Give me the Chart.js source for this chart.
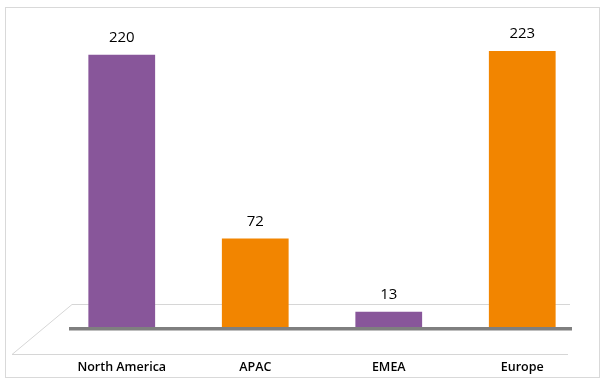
<!DOCTYPE html>
<html><head><meta charset="utf-8">
<script src="https://cdn.jsdelivr.net/npm/chart.js@4"></script>
<style>html,body{margin:0;padding:0;background:#fff}#wrap{width:606px;height:382px}</style>
</head><body><div id="wrap"><canvas id="c" width="606" height="382"></canvas></div>
<script>
const categories = ["North America", "APAC", "EMEA", "Europe"];
const values = [220, 72, 13, 223];
const barColors = ["#88569A", "#F28500", "#88569A", "#F28500"];

const decor = {
  id: 'decor',
  beforeDraw(chart) {
    const ctx = chart.ctx, a = chart.chartArea;
    ctx.save();
    ctx.strokeStyle = '#d9d9d9'; ctx.lineWidth = 1;
    ctx.strokeRect(5.5, 7.5, 594, 370);
    ctx.strokeStyle = '#d6d6d6';
    ctx.beginPath();
    ctx.moveTo(570, a.bottom - 23.5); ctx.lineTo(72, a.bottom - 23.5);
    ctx.lineTo(12, a.bottom + 26.5); ctx.lineTo(568, a.bottom + 26.5);
    ctx.stroke();
    ctx.restore();
  },
  afterDatasetsDraw(chart) {
    const ctx = chart.ctx, a = chart.chartArea;
    ctx.save();
    ctx.fillStyle = '#7f7f7f';
    ctx.fillRect(69, a.bottom - 1, 503, 3.5);
    ctx.restore();
  }
};

const labelPlugin = {
  id: 'vals',
  afterDatasetsDraw(chart) {
    const ctx = chart.ctx;
    const meta = chart.getDatasetMeta(0);
    ctx.save();
    ctx.font = '15px "Open Sans", sans-serif';
    ctx.fillStyle = '#000';
    ctx.textAlign = 'center'; ctx.textBaseline = 'middle';
    meta.data.forEach((bar, i) => {
      ctx.fillText(String(values[i]), bar.x, bar.y - 17);
    });
    ctx.restore();
  }
};

new Chart(document.getElementById('c'), {
  type: 'bar',
  data: { labels: categories, datasets: [{ data: values, backgroundColor: barColors, borderWidth: 0, barPercentage: 0.5, categoryPercentage: 1 }] },
  options: {
    responsive: false, animation: false,
    layout: { padding: { left: 55, right: 17, top: 20, bottom: 0 } },
    plugins: { legend: { display: false }, tooltip: { enabled: false } },
    scales: {
      x: { grid: { display: false }, border: { display: false },
           afterFit: s => { s.height = 54; },
           ticks: { padding: 24, color: '#000', font: { family: '"Open Sans", sans-serif', size: 12.5, weight: '600' } } },
      y: { display: false, min: 0, max: 248 }
    }
  },
  plugins: [decor, labelPlugin]
});
</script></body></html>
